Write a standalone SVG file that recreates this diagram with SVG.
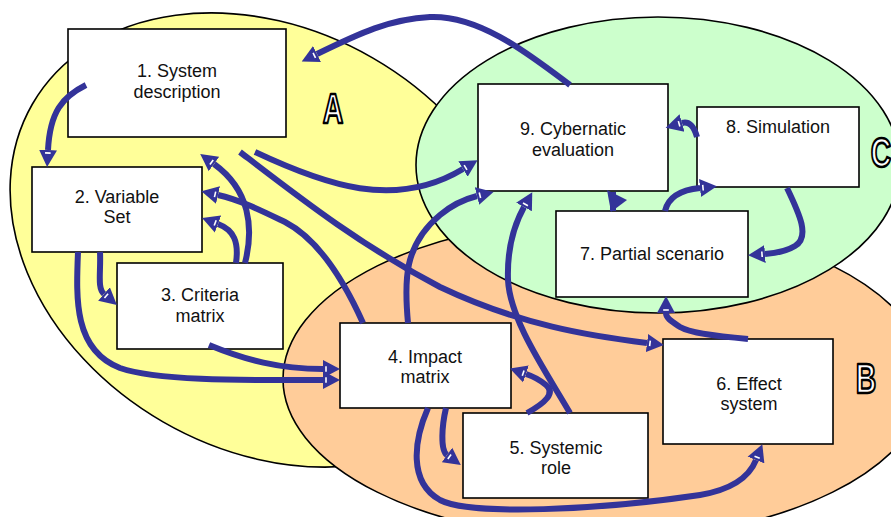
<svg xmlns="http://www.w3.org/2000/svg" width="891" height="517" viewBox="0 0 891 517">
<style>
.zone{stroke:#000;stroke-width:1.6}
.box{fill:#fff;stroke:#000;stroke-width:1.6}
.lbl{font-family:"Liberation Sans",Arial,sans-serif;font-size:18px;fill:#111;text-anchor:middle}
.big{font-family:"Liberation Sans",Arial,sans-serif;font-size:43px;font-weight:bold;fill:#fff;stroke:#000;stroke-width:2.6;stroke-linejoin:round;text-anchor:middle}
.c{fill:none;stroke:#333399;stroke-width:6;marker-end:url(#ah)}
</style>
<defs>
<marker id="ah" markerUnits="userSpaceOnUse" markerWidth="20" markerHeight="20" viewBox="0 -10 20 20" refX="0" refY="0" orient="auto">
<path d="M0,-9 L17,0 L0,9 Z" fill="#333399"/>
<path d="M3,-2.8 L3,2.8" stroke="#fff" stroke-width="1.6"/>
</marker>
</defs>
<rect width="891" height="517" fill="#fff"/>
<g id="zones">
<ellipse class="zone" cx="268" cy="240" rx="272" ry="210" transform="rotate(30 268 240)" fill="#FFFF99"/>
<ellipse class="zone" cx="605" cy="379" rx="322" ry="160" fill="#FFCC99"/>
<ellipse class="zone" cx="658" cy="165" rx="242" ry="148" fill="#CCFFCC"/>
</g>
<g id="zone-labels">
<text class="big" transform="translate(333,123) scale(0.66,1)">A</text>
<text class="big" transform="translate(866,393) scale(0.66,1)">B</text>
<text class="big" transform="translate(881,167) scale(0.66,1)">C</text>
</g>
<g id="n1"><rect class="box" x="68" y="29" width="218" height="108"/><text class="lbl" x="177" y="77">1. System</text><text class="lbl" x="177" y="98">description</text></g>
<g id="n2"><rect class="box" x="32" y="167" width="170" height="85"/><text class="lbl" x="117" y="203">2. Variable</text><text class="lbl" x="117" y="223">Set</text></g>
<g id="n3"><rect class="box" x="117" y="263" width="166" height="86"/><text class="lbl" x="200" y="301">3. Criteria</text><text class="lbl" x="200" y="322">matrix</text></g>
<g id="n4"><rect class="box" x="340" y="323" width="171" height="85"/><text class="lbl" x="425" y="363">4. Impact</text><text class="lbl" x="425" y="383">matrix</text></g>
<g id="n5"><rect class="box" x="463" y="413" width="185" height="85"/><text class="lbl" x="556" y="454">5. Systemic</text><text class="lbl" x="556" y="474">role</text></g>
<g id="n6"><rect class="box" x="663" y="339" width="170" height="105"/><text class="lbl" x="749" y="390">6. Effect</text><text class="lbl" x="749" y="410">system</text></g>
<g id="n7"><rect class="box" x="556" y="211" width="192" height="86"/><text class="lbl" x="652" y="260">7. Partial scenario</text></g>
<g id="n8"><rect class="box" x="697" y="107" width="162" height="80"/><text class="lbl" x="778" y="133">8. Simulation</text></g>
<g id="n9"><rect class="box" x="478" y="84" width="190" height="107"/><text class="lbl" x="573" y="135">9. Cybernatic</text><text class="lbl" x="573" y="156">evaluation</text></g>
<g id="connectors">
<path class="c" d="M86,85 C62,97 50,112 48,150"/>
<path class="c" d="M100,252 C101,272 97,288 104,294"/>
<path class="c" d="M78,252 C76,300 74,350 120,368 C160,382 260,380 323,380"/>
<path class="c" d="M209,345 C245,360 280,369 323,369"/>
<path class="c" d="M245,263 C254,228 250,190 214,164"/>
<path class="c" d="M236,263 C239,242 234,230 218,224"/>
<path class="c" d="M363,323 C345,283 320,240 285,222 C260,210 240,200 218,195"/>
<path class="c" d="M240,152 C300,198 360,245 440,287 C520,325 590,336 647,343"/>
<path class="c" d="M255,152 C325,185 395,210 463,169"/>
<path class="c" d="M408,323 C404,280 404,245 440,215 C452,205 465,199 477,196"/>
<path class="c" d="M570,85 C530,55 480,15 430,17 C390,19 360,33 317,54"/>
<path class="c" d="M697,137 C694,126 689,121 682,123"/>
<path d="M613,192 L613,211" fill="none" stroke="#333399" stroke-width="6"/>
<polygon points="607,190 627,200 611,212" fill="#333399"/>
<path class="c" d="M665,211 C668,198 680,190 700,188"/>
<path class="c" d="M787,188 C800,215 810,237 795,246 C787,251 778,253 765,254"/>
<path class="c" d="M748,339 C715,336 690,333 680,327 C671,321 666,318 666,313"/>
<path class="c" d="M527,413 C545,403 556,393 546,385 C540,380 535,377 526,374"/>
<path class="c" d="M570,413 C545,370 510,320 508,280 C507,250 514,225 524,207"/>
<path class="c" d="M446,408 C442,425 440,450 447,455"/>
<path class="c" d="M428,408 C414,440 408,482 440,500 C470,516 600,510 700,495 C735,489 750,475 756,460"/>
</g>
</svg>
